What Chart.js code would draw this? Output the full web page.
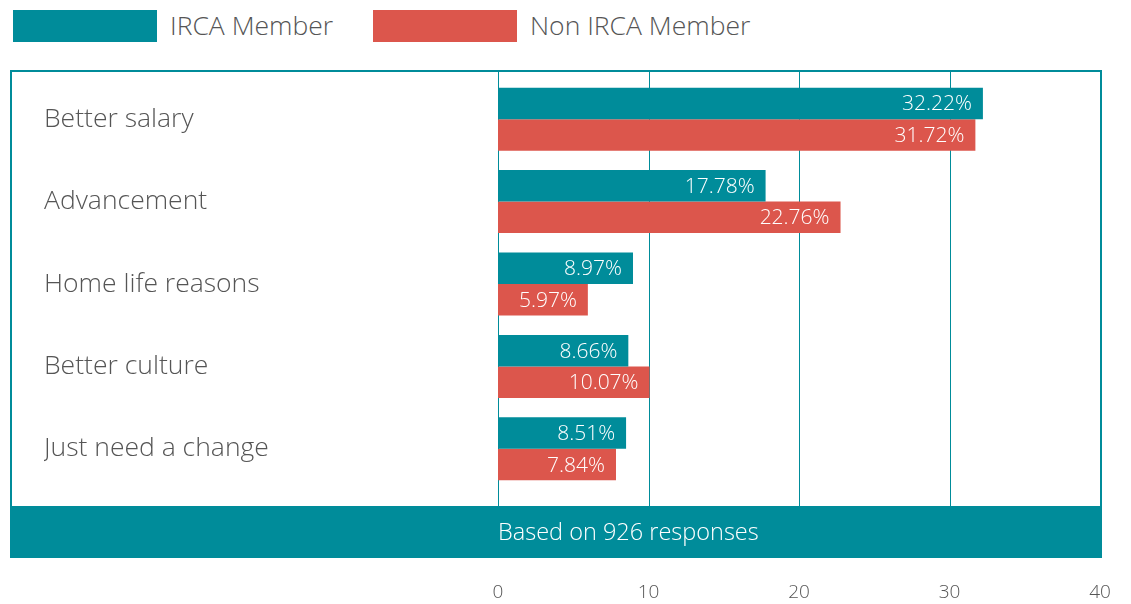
<!DOCTYPE html>
<html>
<head>
<meta charset="utf-8">
<script src="https://cdn.jsdelivr.net/npm/chart.js@4"></script>
<style>
  html, body { margin: 0; padding: 0; background: #fff; }
  body { width: 1131px; height: 604px; position: relative; overflow: hidden; font-family: 'Open Sans', sans-serif; }
  #wrap { position: absolute; left: 0; top: 0; width: 1131px; height: 604px; }
  .leg { position: absolute; top: 7px; height: 36px; display: flex; align-items: center; font: 300 26.5px 'Open Sans', sans-serif; color: #555; }
  .leg span { display: inline-block; width: 144px; height: 32px; margin: 2px 13px 0 0; }
</style>
</head>
<body>
<div class="leg" style="left:13px"><span style="background:#008c9a"></span>IRCA Member</div>
<div class="leg" style="left:373px"><span style="background:#dc564c"></span>Non IRCA Member</div>
<div id="wrap"><canvas id="c"></canvas></div>
<script>
// categories and series (percent of respondents)
const reasons = ['Better salary', 'Advancement', 'Home life reasons', 'Better culture', 'Just need a change'];
const ircaMember = [32.22, 17.78, 8.97, 8.66, 8.51];
const nonIrcaMember = [31.72, 22.76, 5.97, 10.07, 7.84];
const xTicks = [0, 10, 20, 30, 40];
const footNote = 'Based on 926 responses';

const TEAL = '#008c9a', RED = '#dc564c';
const FONT = "'Open Sans', sans-serif";

// frame, grid lines and footer band around the plot
const framePlugin = {
  id: 'frame',
  beforeDatasetsDraw(chart) {
    const { ctx, scales: { x } } = chart;
    ctx.save();
    ctx.strokeStyle = TEAL;
    ctx.lineWidth = 1;
    xTicks.slice(0, -1).forEach(v => {
      const px = Math.round(x.getPixelForValue(v)) + 0.5;
      ctx.beginPath(); ctx.moveTo(px, 71); ctx.lineTo(px, 506); ctx.stroke();
    });
    ctx.lineWidth = 2;
    ctx.strokeRect(11, 71, 1090, 440);
    ctx.fillStyle = TEAL;
    ctx.fillRect(10, 506, 1092, 52);
    ctx.fillStyle = '#fff';
    ctx.font = '300 23.5px ' + FONT;
    ctx.textBaseline = 'middle';
    ctx.fillText(footNote, Math.round(x.getPixelForValue(0)), 533);
    ctx.restore();
  },
  afterDatasetsDraw(chart) {
    const { ctx } = chart;
    ctx.save();
    ctx.fillStyle = '#fff';
    ctx.font = '300 21px ' + FONT;
    ctx.textAlign = 'right';
    ctx.textBaseline = 'middle';
    chart.data.datasets.forEach((ds, i) => {
      chart.getDatasetMeta(i).data.forEach((bar, j) => {
        ctx.fillText(ds.data[j].toFixed(2) + '%', bar.x - 11, bar.y + 1);
      });
    });
    ctx.restore();
  }
};

new Chart(document.getElementById('c'), {
  type: 'bar',
  data: {
    labels: reasons,
    datasets: [
      { label: 'IRCA Member', data: ircaMember, backgroundColor: TEAL },
      { label: 'Non IRCA Member', data: nonIrcaMember, backgroundColor: RED }
    ]
  },
  options: {
    indexAxis: 'y',
    responsive: true, maintainAspectRatio: false, animation: false,
    layout: { padding: { left: 44, top: 78, right: 31, bottom: 0 } },
    datasets: { bar: { barPercentage: 1, categoryPercentage: 0.765 } },
    plugins: { legend: { display: false }, tooltip: { enabled: false } },
    scales: {
      x: {
        min: 0, max: 40,
        afterBuildTicks: s => { s.ticks = xTicks.map(v => ({ value: v })); },
        afterFit: s => { s.height = 114; },
        grid: { display: false, drawTicks: true, tickLength: 88 },
        border: { display: false },
        ticks: { color: '#555', font: { family: FONT, size: 19, weight: 300 }, padding: 3, maxRotation: 0 }
      },
      y: {
        afterFit: s => { s.width = 454; },
        grid: { display: false, drawTicks: false },
        border: { display: false },
        ticks: { color: '#555', crossAlign: 'far', font: { family: FONT, size: 26.5, weight: 300 } }
      }
    }
  },
  plugins: [framePlugin]
});
</script>
</body>
</html>
